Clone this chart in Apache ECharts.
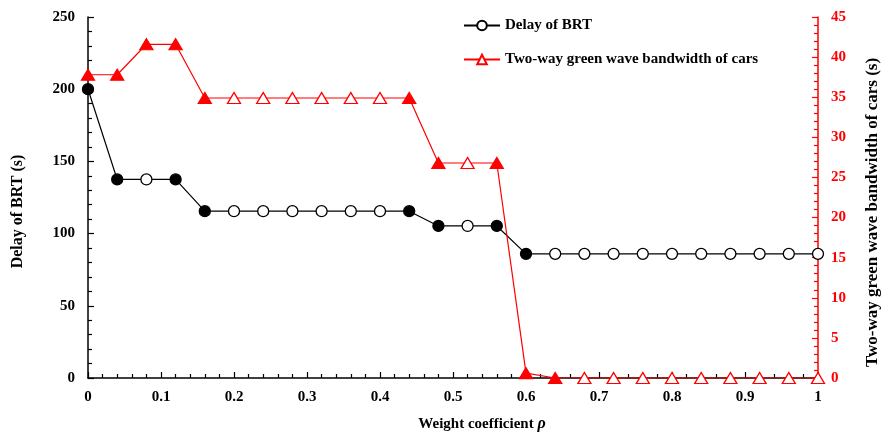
<!DOCTYPE html>
<html>
<head>
<meta charset="utf-8">
<script src="https://cdn.jsdelivr.net/npm/echarts@6/dist/echarts.min.js"></script>
<style>
  html, body { margin: 0; padding: 0; background: #fff; }
  #chart { width: 883px; height: 432px; }
</style>
</head>
<body>
<div id="chart"></div>
<script>
// weight coefficient rho
var rho = [0, 0.04, 0.08, 0.12, 0.16, 0.2, 0.24, 0.28, 0.32, 0.36, 0.4, 0.44, 0.48,
  0.52, 0.56, 0.6, 0.64, 0.68, 0.72, 0.76, 0.8, 0.84, 0.88, 0.92, 0.96, 1]
// delay of BRT (s)
var brtDelay = [200, 137.5, 137.5, 137.5, 115.5, 115.5, 115.5, 115.5, 115.5, 115.5, 115.5, 115.5, 105.3,
  105.3, 105.3, 86, 86, 86, 86, 86, 86, 86, 86, 86, 86, 86]
// filled marker (1) or hollow (0)
var brtFilled = [1, 1, 0, 1, 1, 0, 0, 0, 0, 0, 0, 1, 1, 0, 1, 1, 0, 0, 0, 0, 0, 0, 0, 0, 0, 0]
// two-way green wave bandwidth of cars (s)
var carBand = [37.8, 37.8, 41.6, 41.6, 34.9, 34.9, 34.9, 34.9, 34.9, 34.9, 34.9, 34.9, 26.8,
  26.8, 26.8, 0.6, 0, 0, 0, 0, 0, 0, 0, 0, 0, 0]
var carFilled = [1, 1, 1, 1, 1, 0, 0, 0, 0, 0, 0, 1, 1, 0, 1, 1, 1, 0, 0, 0, 0, 0, 0, 0, 0, 0]

var font = 'Liberation Serif'

function pts (vals, filled, col) {
  return vals.map(function (v, i) {
    var p = { value: [rho[i], v] }
    if (filled[i]) p.itemStyle = { color: col }
    return p
  })
}

var chart = echarts.init(document.getElementById('chart'))
chart.setOption({
  animation: false,
  textStyle: { fontFamily: font, fontWeight: 'bold' },
  grid: { left: 88, right: 65, top: 17, bottom: 54, outerBoundsMode: 'none' },
  legend: {
    orient: 'vertical',
    left: 458,
    top: 13,
    itemWidth: 36,
    itemHeight: 12,
    itemGap: 19,
    textStyle: { fontFamily: font, fontWeight: 'bold', fontSize: 15, color: '#000' },
    data: ['Delay of BRT', 'Two-way green wave bandwidth of cars']
  },
  xAxis: {
    type: 'value',
    min: 0,
    max: 1,
    interval: 0.1,
    name: '{a|Weight coefficient }{b|ρ}',
    nameLocation: 'middle',
    nameGap: 38,
    nameTextStyle: {
      padding: [0, 0, 0, 58],
      rich: {
        a: { fontFamily: font, fontWeight: 'bold', fontSize: 15, color: '#000' },
        b: { fontFamily: font, fontWeight: 'bold', fontStyle: 'italic', fontSize: 16, color: '#000' }
      }
    },
    axisLine: { lineStyle: { color: '#000', width: 1.5 } },
    axisTick: { inside: true, length: 6, lineStyle: { color: '#000', width: 1.2 } },
    minorTick: { show: true, splitNumber: 5, length: 4, lineStyle: { color: '#000', width: 1.2 } },
    splitLine: { show: false },
    axisLabel: { color: '#000', fontSize: 15, fontWeight: 'bold', fontFamily: font, margin: 12 }
  },
  yAxis: [{
    type: 'value',
    min: 0,
    max: 250,
    interval: 50,
    position: 'left',
    name: 'Delay of BRT (s)',
    nameLocation: 'middle',
    nameGap: 62,
    nameTextStyle: { color: '#000', fontSize: 16, fontWeight: 'bold', fontFamily: font, padding: [0, 28, 0, 0] },
    axisLine: { show: true, lineStyle: { color: '#000', width: 1.5 } },
    axisTick: { inside: true, length: 6, lineStyle: { color: '#000', width: 1.2 } },
    minorTick: { show: true, splitNumber: 5, length: 4, lineStyle: { color: '#000', width: 1.2 } },
    splitLine: { show: false },
    axisLabel: { color: '#000', fontSize: 15, fontWeight: 'bold', fontFamily: font, margin: 13 }
  }, {
    type: 'value',
    min: 0,
    max: 45,
    interval: 5,
    position: 'right',
    name: 'Two-way green wave bandwidth of cars (s)',
    nameLocation: 'middle',
    nameGap: 46,
    nameRotate: 90,
    nameTextStyle: { color: '#000', fontSize: 17, fontWeight: 'bold', fontFamily: font, padding: [0, 30, 0, 0] },
    axisLine: { show: true, lineStyle: { color: '#f00', width: 1.5 } },
    axisTick: { inside: true, length: 6, lineStyle: { color: '#f00', width: 1.2 } },
    minorTick: { show: true, splitNumber: 5, length: 4, lineStyle: { color: '#f00', width: 1.2 } },
    splitLine: { show: false },
    axisLabel: { color: '#f00', fontSize: 15, fontWeight: 'bold', fontFamily: font, margin: 13 }
  }],
  series: [{
    name: 'Delay of BRT',
    type: 'line',
    yAxisIndex: 0,
    symbol: 'circle',
    symbolSize: 11,
    showAllSymbol: true,
    lineStyle: { color: '#000', width: 1.2 },
    itemStyle: { color: '#fff', borderColor: '#000', borderWidth: 1.3 },
    data: pts(brtDelay, brtFilled, '#000')
  }, {
    name: 'Two-way green wave bandwidth of cars',
    type: 'line',
    yAxisIndex: 1,
    symbol: 'triangle',
    symbolSize: [13, 11],
    showAllSymbol: true,
    lineStyle: { color: '#f00', width: 1.2 },
    itemStyle: { color: '#fff', borderColor: '#f00', borderWidth: 1.3 },
    data: pts(carBand, carFilled, '#f00')
  }]
})
</script>
</body>
</html>
